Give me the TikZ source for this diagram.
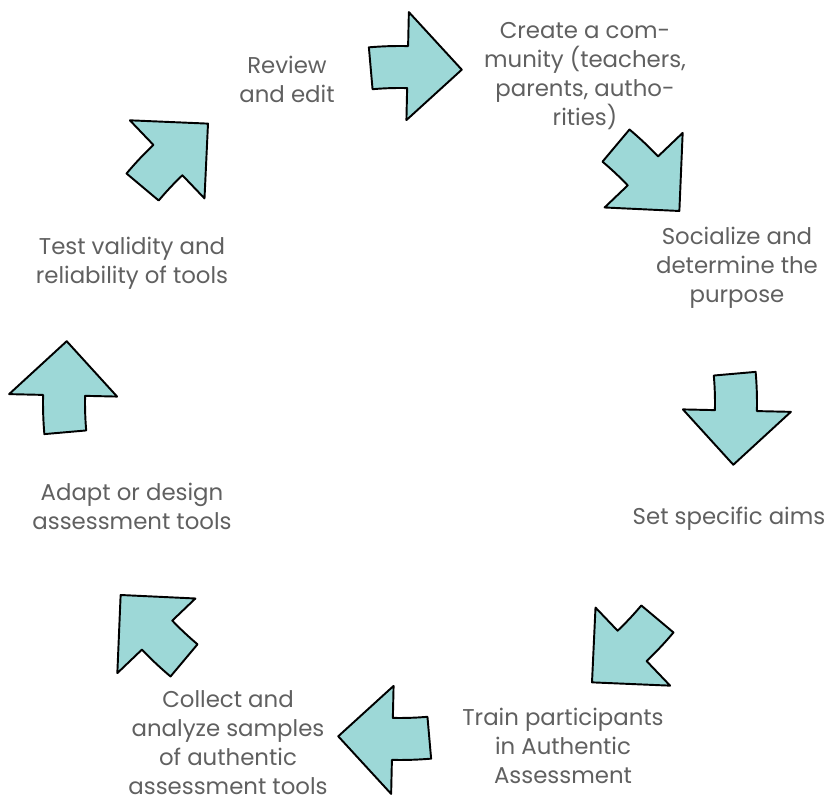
\documentclass[tikz,border=0pt]{standalone}
\usepackage{fontspec}
\setmainfont{Poppins}
\definecolor{cyclefill}{HTML}{9DD8D7}
\definecolor{labelgray}{HTML}{606060}
\tikzset{
  cyclearrow/.style={draw=black, fill=cyclefill, line width=1.1pt, line join=round},
  steplabel/.style={text=labelgray, align=center, font=\fontsize{13}{16.5}\selectfont}
}

\begin{document}
\begin{tikzpicture}
    \useasboundingbox (0,0) rectangle (16.6,16);
    % Arrows around the cycle
    \begin{scope}[shift={(8,7.94)}]
        \foreach \a in {87.3,42.3,-2.7,-47.7,-92.7,-137.7,-182.7,-227.7}
            \draw[cyclearrow] ({\a+7.7}:6.3) arc[start angle=\a+7.7, end angle=\a+1.4, radius=6.3]
                -- ({\a+1.4}:5.66) -- ({\a-7.8}:6.78) -- ({\a+1.4}:7.82) -- ({\a+1.4}:7.14)
                arc[start angle=\a+1.4, end angle=\a+7.7, radius=7.14] -- cycle;
    \end{scope}
    % Nodes
    \node[steplabel] (create) at (11.7,14.48) {Create a com-\\munity (teachers,\\parents, autho-\\rities)};
    \node[steplabel] (socialize) at (14.74,10.64) {Socialize and\\determine the\\purpose};
    \node[steplabel] (aims) at (14.58,5.62) {Set specific aims};
    \node[steplabel] (train) at (11.26,1.08) {Train participants\\in Authentic\\Assessment};
    \node[steplabel] (collect) at (4.56,1.15) {Collect and\\analyze samples\\of authentic\\assessment tools};
    \node[steplabel] (adapt) at (2.64,5.88) {Adapt or design\\assessment tools};
    \node[steplabel] (test) at (2.64,10.73) {Test validity and\\reliability of tools};
    \node[steplabel] (review) at (5.74,14.41) {Review\\and edit};
\end{tikzpicture}
\end{document}
